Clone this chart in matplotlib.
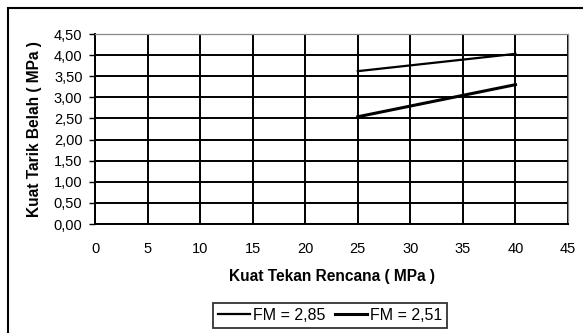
import matplotlib
matplotlib.use("Agg")
import matplotlib.pyplot as plt
from matplotlib.patches import Rectangle

plt.rcParams['font.family'] = ['Liberation Sans', 'DejaVu Sans']

# Data
x_fm285 = [25, 40]
y_fm285 = [3.62, 4.03]
x_fm251 = [25, 40]
y_fm251 = [2.54, 3.30]
labels = ["FM = 2,85", "FM = 2,51"]
xticks = [0, 5, 10, 15, 20, 25, 30, 35, 40, 45]
yticks = [0.0, 0.5, 1.0, 1.5, 2.0, 2.5, 3.0, 3.5, 4.0, 4.5]
ytick_labels = ["0,00", "0,50", "1,00", "1,50", "2,00", "2,50", "3,00", "3,50", "4,00", "4,50"]
xlabel = "Kuat Tekan Rencana ( MPa )"
ylabel = "Kuat Tarik Belah ( MPa )"

W, H = 583, 333
fig = plt.figure(figsize=(W / 100, H / 100), dpi=100)
fig.patch.set_facecolor('white')

# outer frame (left and top edges visible, rest cut off)
fig.add_artist(Rectangle((8 / W, -0.2), 1.5, 1.2 - 8 / H, transform=fig.transFigure,
                         fill=False, edgecolor='black', linewidth=1.5, clip_on=False))

ax = fig.add_axes([95 / W, 1 - 224 / H, (568 - 95) / W, (224 - 34) / H])
ax.set_xlim(0, 45)
ax.set_ylim(0, 4.5)

ax.set_xticks(xticks)
ax.set_xticklabels([str(v) for v in xticks])
ax.set_yticks(yticks)
ax.set_yticklabels(ytick_labels)
ax.grid(True, color='black', linewidth=1.4)
ax.set_axisbelow(True)

ax.tick_params(axis='x', length=0, pad=13, labelsize=10.5)
ax.tick_params(axis='y', length=4, width=1, direction='out', pad=5, labelsize=10.5)

for side in ['top', 'right']:
    ax.spines[side].set_color('#888888')
    ax.spines[side].set_linewidth(0.9)
    ax.spines[side].set_linestyle((0, (1, 1)))
for side in ['left', 'bottom']:
    ax.spines[side].set_color('black')
    ax.spines[side].set_linewidth(1.4)

l1, = ax.plot(x_fm285, y_fm285, color='black', linewidth=1.6, label=labels[0])
l2, = ax.plot(x_fm251, y_fm251, color='black', linewidth=2.2, label=labels[1])

ax.set_xlabel(xlabel, fontsize=11.2, fontweight='bold')
ax.xaxis.set_label_coords(0.5, (224 - 276.5) / 190)
ax.xaxis.label.set_va('center')
ax.set_ylabel(ylabel, fontsize=11.2, fontweight='bold')
ax.yaxis.set_label_coords((35 - 95) / 473, 0.5)
ax.yaxis.label.set_va('center')

leg = fig.legend(handles=[l1, l2], labels=labels, loc='upper center',
                 bbox_to_anchor=(330 / W, 1 - 303 / H), ncol=2, fontsize=11.5,
                 frameon=True, fancybox=False, handlelength=2.0, handletextpad=0.2,
                 columnspacing=0.6, borderpad=0.3, borderaxespad=0)
leg.get_frame().set_edgecolor('black')
leg.get_frame().set_linewidth(1.3)

fig.savefig('out.png', dpi=100)
